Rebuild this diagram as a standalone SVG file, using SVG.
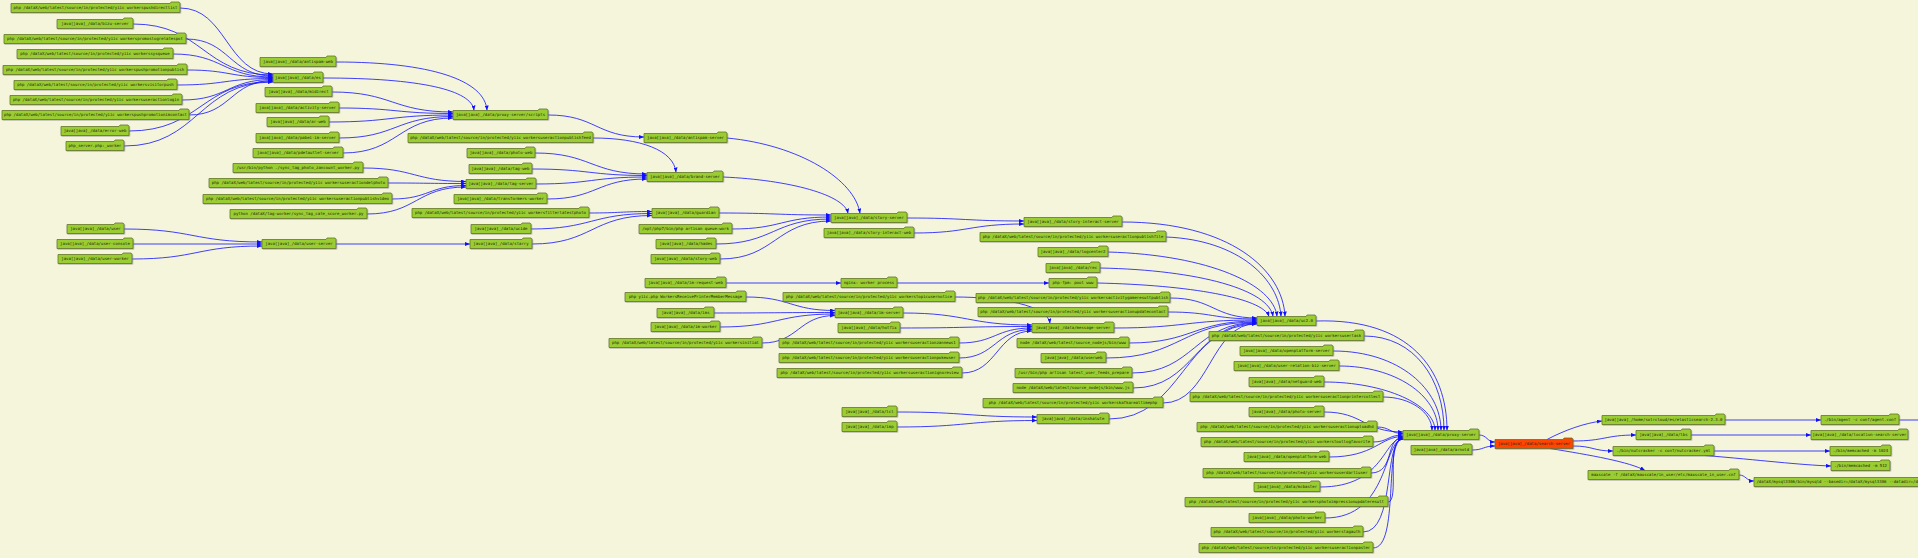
<svg xmlns="http://www.w3.org/2000/svg" width="1918" height="558" viewBox="0 0 1918 558">
<style>
.n path{fill:#9acd32;stroke:#5b6b1e;stroke-width:0.7;filter:url(#sh)}
.n text{font-family:"DejaVu Sans Mono","Liberation Mono",monospace;font-size:4px;text-anchor:middle;fill:#1e2410}
.e path{fill:none;stroke:#1010ff;stroke-width:0.8;marker-end:url(#a)}
#n89 path{fill:#ff4500}
</style>
<defs>
<marker id="a" markerUnits="userSpaceOnUse" markerWidth="5" markerHeight="4" viewBox="0 0 5 4" refX="5" refY="2" orient="auto"><path d="M0,0L5,2L0,4z" fill="#1010ff"/></marker>
<filter id="sh" x="-5%" y="-40%" width="110%" height="180%"><feDropShadow dx="0.7" dy="0.7" stdDeviation="0.4" flood-color="#777" flood-opacity="0.6"/></filter>
</defs>
<rect width="1918" height="558" fill="#f5f5dc"/>
<g id="edges" class="e">
<path d="M180,8C226.5,8 226.5,74 273,74"/>
<path d="M133,24C203,24 203,75 273,75"/>
<path d="M186,39C229.5,39 229.5,76 273,76"/>
<path d="M173,54C223,54 223,77 273,77"/>
<path d="M187,70C230,70 230,77.5 273,77.5"/>
<path d="M177,85C225,85 225,78.5 273,78.5"/>
<path d="M182,100C227.5,100 227.5,79.5 273,79.5"/>
<path d="M189,115C231,115 231,80.5 273,80.5"/>
<path d="M129,131C201,131 201,81.5 273,81.5"/>
<path d="M124,146C198.5,146 198.5,82 273,82"/>
<path d="M336,62C430,62 485,80 487,110.5"/>
<path d="M323,78C420,78 472,90 474,110.5"/>
<path d="M332,92C392.5,92 392.5,112 453,112"/>
<path d="M339,108C396,108 396,113.5 453,113.5"/>
<path d="M329,122C391,122 391,115 453,115"/>
<path d="M339,138C396,138 396,116.5 453,116.5"/>
<path d="M343,153C398,153 398,118 453,118"/>
<path d="M548,115C596,115 596,137 644,137"/>
<path d="M363,168C414.5,168 414.5,181.5 466,181.5"/>
<path d="M388,183C427,183 427,183.5 466,183.5"/>
<path d="M392,199C429,199 429,185.5 466,185.5"/>
<path d="M367,214C416.5,214 416.5,187 466,187"/>
<path d="M593,138C640,138 674,150 676,172.5"/>
<path d="M535,153C591,153 591,174 647,174"/>
<path d="M532,169C589.5,169 589.5,175.5 647,175.5"/>
<path d="M536,184C591.5,184 591.5,177 647,177"/>
<path d="M547,199C597,199 597,179 647,179"/>
<path d="M589,213C620.5,213 620.5,211.5 652,211.5"/>
<path d="M531,229C591.5,229 591.5,213.5 652,213.5"/>
<path d="M532,244C592,244 592,215.5 652,215.5"/>
<path d="M124,229C193,229 193,242 262,242"/>
<path d="M133,244L262,244"/>
<path d="M132,259C197,259 197,246 262,246"/>
<path d="M336,244L470,244"/>
<path d="M727,138C800,145 855,180 860,213.5"/>
<path d="M723,177C790,180 845,195 848,213.5"/>
<path d="M719,213C775,213 775,215 831,215"/>
<path d="M732,229C781.5,229 781.5,217 831,217"/>
<path d="M716,244C773.5,244 773.5,219 831,219"/>
<path d="M720,259C775.5,259 775.5,221 831,221"/>
<path d="M907,218C965.5,218 965.5,221 1024,221"/>
<path d="M914,233C969,233 969,224 1024,224"/>
<path d="M726,283L841,283"/>
<path d="M897,283L1049,283"/>
<path d="M746,297C790.5,297 790.5,310.5 835,310.5"/>
<path d="M714,313C774.5,313 774.5,312.5 835,312.5"/>
<path d="M720,327C777.5,327 777.5,314 835,314"/>
<path d="M762,343C798.5,343 798.5,315.5 835,315.5"/>
<path d="M903,313C967.5,313 967.5,325 1032,325"/>
<path d="M955,297C1000,297 1048,305 1050,323.5"/>
<path d="M900,328C966,328 966,326.5 1032,326.5"/>
<path d="M959,343C995.5,343 995.5,328 1032,328"/>
<path d="M959,358C995.5,358 995.5,329.5 1032,329.5"/>
<path d="M962,373C997,373 997,331 1032,331"/>
<path d="M897,412C967,412 967,417 1037,417"/>
<path d="M897,427C967,427 967,420.5 1037,420.5"/>
<path d="M1122,222C1230,222 1283,270 1285,316.5"/>
<path d="M1166,237C1240,240 1279,280 1281,316.5"/>
<path d="M1108,252C1210,255 1274,285 1277,316.5"/>
<path d="M1100,268C1200,270 1269,290 1273,316.5"/>
<path d="M1097,283C1190,285 1263,298 1269,316.5"/>
<path d="M1170,298C1213.5,298 1213.5,318 1257,318"/>
<path d="M1168,312C1212.5,312 1212.5,319 1257,319"/>
<path d="M1114,328C1185.5,328 1185.5,320 1257,320"/>
<path d="M1129,343C1193,343 1193,321 1257,321"/>
<path d="M1106,358C1181.5,358 1181.5,322 1257,322"/>
<path d="M1132,373C1194.5,373 1194.5,322.5 1257,322.5"/>
<path d="M1133,388C1195,388 1195,323 1257,323"/>
<path d="M1163,403C1210,403 1210,323.5 1257,323.5"/>
<path d="M1109,419C1183,419 1183,324 1257,324"/>
<path d="M1316,321C1410,318 1447,370 1447,430.5"/>
<path d="M1364,336C1415,336 1444,380 1444,430.5"/>
<path d="M1333,351C1400,351 1441,390 1441,430.5"/>
<path d="M1339,366C1395,366 1438,395 1438,430.5"/>
<path d="M1324,382C1385,382 1435,405 1435,430.5"/>
<path d="M1383,397C1410,397 1432,412 1432,430.5"/>
<path d="M1324,412C1363.5,412 1363.5,432 1403,432"/>
<path d="M1377,427C1390,427 1390,433.5 1403,433.5"/>
<path d="M1373,442C1388,442 1388,435 1403,435"/>
<path d="M1329,457C1375,457 1380,436.5 1403,436.5"/>
<path d="M1371,473C1395,473 1385,437.5 1403,437.5"/>
<path d="M1320,487C1385,487 1383,438 1403,438"/>
<path d="M1388,502C1400,502 1385,438.5 1403,438.5"/>
<path d="M1325,518C1390,518 1383,439 1403,439"/>
<path d="M1363,532C1396,532 1383,439 1403,439"/>
<path d="M1373,548C1400,548 1383,439 1403,439"/>
<path d="M1479,435C1487,435 1487,442 1495,442"/>
<path d="M1472,450C1483.5,450 1483.5,446 1495,446"/>
<path d="M1547,439.5C1565,430 1585,423 1602,421"/>
<path d="M1573,441C1605,441 1605,435 1636,435"/>
<path d="M1573,446C1593,446 1593,451 1613,451"/>
<path d="M1550,448.5C1590,455 1630,462 1645,470.5"/>
<path d="M1725,420L1821,420"/>
<path d="M1691,435L1811,435"/>
<path d="M1714,451L1830,451"/>
<path d="M1705,455.5C1760,460 1800,465 1831,466"/>
<path d="M1739,475C1746,475 1746,481 1754,481"/>
<path d="M1899,420L1918,420" style="marker-end:none"/>
</g>
<g id="n1" class="n"><path d="M11,3.5H170l1,-1.5h8l1,1.5V12.5H11Z"/><text x="95.5" y="9.4">php /dataX/web/latest/source/in/protected/yiic workerspushdirectlist</text></g>
<g id="n2" class="n"><path d="M57,19.5H123l1,-1.5h8l1,1.5V28.5H57Z"/><text x="95" y="25.4">java[java]_/data/bizu-server</text></g>
<g id="n3" class="n"><path d="M4,34.5H176l1,-1.5h8l1,1.5V43.5H4Z"/><text x="95" y="40.4">php /dataX/web/latest/source/in/protected/yiic workerspromoslogrelatespot</text></g>
<g id="n4" class="n"><path d="M17,49.5H163l1,-1.5h8l1,1.5V58.5H17Z"/><text x="95" y="55.4">php /dataX/web/latest/source/in/protected/yiic workerssysqueue</text></g>
<g id="n5" class="n"><path d="M3,65.5H177l1,-1.5h8l1,1.5V74.5H3Z"/><text x="95" y="71.4">php /dataX/web/latest/source/in/protected/yiic workerspushpromotionpublish</text></g>
<g id="n6" class="n"><path d="M14,80.5H167l1,-1.5h8l1,1.5V89.5H14Z"/><text x="95.5" y="86.4">php /dataX/web/latest/source/in/protected/yiic workersvisitorpush</text></g>
<g id="n7" class="n"><path d="M10,95.5H172l1,-1.5h8l1,1.5V104.5H10Z"/><text x="96" y="101.4">php /dataX/web/latest/source/in/protected/yiic workersuseractionlogin</text></g>
<g id="n8" class="n"><path d="M2,110.5H179l1,-1.5h8l1,1.5V119.5H2Z"/><text x="95.5" y="116.4">php /dataX/web/latest/source/in/protected/yiic workerspushpromotionimcontact</text></g>
<g id="n9" class="n"><path d="M61,126.5H119l1,-1.5h8l1,1.5V135.5H61Z"/><text x="95" y="132.4">java[java]_/data/error-web</text></g>
<g id="n10" class="n"><path d="M66,141.5H114l1,-1.5h8l1,1.5V150.5H66Z"/><text x="95" y="147.4">php_server.php:_worker</text></g>
<g id="n11" class="n"><path d="M260,57.5H326l1,-1.5h8l1,1.5V66.5H260Z"/><text x="298" y="63.4">java[java]_/data/antispam-web</text></g>
<g id="n12" class="n"><path d="M273,73.5H313l1,-1.5h8l1,1.5V82.5H273Z"/><text x="298" y="79.4">java[java]_/data/es</text></g>
<g id="n13" class="n"><path d="M265,87.5H322l1,-1.5h8l1,1.5V96.5H265Z"/><text x="298.5" y="93.4">java[java]_/data/midirect</text></g>
<g id="n14" class="n"><path d="M256,103.5H329l1,-1.5h8l1,1.5V112.5H256Z"/><text x="297.5" y="109.4">java[java]_/data/activity-server</text></g>
<g id="n15" class="n"><path d="M267,117.5H319l1,-1.5h8l1,1.5V126.5H267Z"/><text x="298" y="123.4">java[java]_/data/ar-web</text></g>
<g id="n16" class="n"><path d="M256,133.5H329l1,-1.5h8l1,1.5V142.5H256Z"/><text x="297.5" y="139.4">java[java]_/data/pabei-im-server</text></g>
<g id="n17" class="n"><path d="M253,148.5H333l1,-1.5h8l1,1.5V157.5H253Z"/><text x="298" y="154.4">java[java]_/data/pdetautlet-server</text></g>
<g id="n18" class="n"><path d="M233,163.5H353l1,-1.5h8l1,1.5V172.5H233Z"/><text x="298" y="169.4">/usr/bin/python ./sync_tag_photo_zancount_worker.py</text></g>
<g id="n19" class="n"><path d="M209,178.5H378l1,-1.5h8l1,1.5V187.5H209Z"/><text x="298.5" y="184.4">php /dataX/web/latest/source/in/protected/yiic workersuseractiondelphoto</text></g>
<g id="n20" class="n"><path d="M203,194.5H382l1,-1.5h8l1,1.5V203.5H203Z"/><text x="297.5" y="200.4">php /dataX/web/latest/source/in/protected/yiic workersuseractionpublishvideo</text></g>
<g id="n21" class="n"><path d="M230,209.5H357l1,-1.5h8l1,1.5V218.5H230Z"/><text x="298.5" y="215.4">python /dataX/tag-worker/sync_tag_cate_score_worker.py</text></g>
<g id="n22" class="n"><path d="M67,224.5H114l1,-1.5h8l1,1.5V233.5H67Z"/><text x="95.5" y="230.4">java[java]_/data/user</text></g>
<g id="n23" class="n"><path d="M57,239.5H123l1,-1.5h8l1,1.5V248.5H57Z"/><text x="95" y="245.4">java[java]_/data/user-console</text></g>
<g id="n24" class="n"><path d="M58,254.5H122l1,-1.5h8l1,1.5V263.5H58Z"/><text x="95" y="260.4">java[java]_/data/user-worker</text></g>
<g id="n25" class="n"><path d="M262,239.5H326l1,-1.5h8l1,1.5V248.5H262Z"/><text x="299" y="245.4">java[java]_/data/user-server</text></g>
<g id="n26" class="n"><path d="M453,110.5H538l1,-1.5h8l1,1.5V119.5H453Z"/><text x="500.5" y="116.4">java[java]_/data/proxy-server/scripts</text></g>
<g id="n27" class="n"><path d="M408,133.5H583l1,-1.5h8l1,1.5V142.5H408Z"/><text x="500.5" y="139.4">php /dataX/web/latest/source/in/protected/yiic workersuseractionpublishfeed</text></g>
<g id="n28" class="n"><path d="M467,148.5H525l1,-1.5h8l1,1.5V157.5H467Z"/><text x="501" y="154.4">java[java]_/data/photo-web</text></g>
<g id="n29" class="n"><path d="M469,164.5H522l1,-1.5h8l1,1.5V173.5H469Z"/><text x="500.5" y="170.4">java[java]_/data/tag-web</text></g>
<g id="n30" class="n"><path d="M466,179.5H526l1,-1.5h8l1,1.5V188.5H466Z"/><text x="501" y="185.4">java[java]_/data/tag-server</text></g>
<g id="n31" class="n"><path d="M454,194.5H537l1,-1.5h8l1,1.5V203.5H454Z"/><text x="500.5" y="200.4">java[java]_/data/transformers-worker</text></g>
<g id="n32" class="n"><path d="M412,208.5H579l1,-1.5h8l1,1.5V217.5H412Z"/><text x="500.5" y="214.4">php /dataX/web/latest/source/in/protected/yiic workersfilterlatestphoto</text></g>
<g id="n33" class="n"><path d="M471,224.5H521l1,-1.5h8l1,1.5V233.5H471Z"/><text x="501" y="230.4">java[java]_/data/ucide</text></g>
<g id="n34" class="n"><path d="M470,239.5H522l1,-1.5h8l1,1.5V248.5H470Z"/><text x="501" y="245.4">java[java]_/data/starry</text></g>
<g id="n35" class="n"><path d="M644,133.5H717l1,-1.5h8l1,1.5V142.5H644Z"/><text x="685.5" y="139.4">java[java]_/data/antispam-server</text></g>
<g id="n36" class="n"><path d="M647,172.5H713l1,-1.5h8l1,1.5V181.5H647Z"/><text x="685" y="178.4">java[java]_/data/brand-server</text></g>
<g id="n37" class="n"><path d="M652,208.5H709l1,-1.5h8l1,1.5V217.5H652Z"/><text x="685.5" y="214.4">java[java]_/data/guardian</text></g>
<g id="n38" class="n"><path d="M639,224.5H722l1,-1.5h8l1,1.5V233.5H639Z"/><text x="685.5" y="230.4">/opt/php7/bin/php artisan queue:work</text></g>
<g id="n39" class="n"><path d="M656,239.5H706l1,-1.5h8l1,1.5V248.5H656Z"/><text x="686" y="245.4">java[java]_/data/hades</text></g>
<g id="n40" class="n"><path d="M651,254.5H710l1,-1.5h8l1,1.5V263.5H651Z"/><text x="685.5" y="260.4">java[java]_/data/story-web</text></g>
<g id="n41" class="n"><path d="M831,213.5H897l1,-1.5h8l1,1.5V222.5H831Z"/><text x="869" y="219.4">java[java]_/data/story-server</text></g>
<g id="n42" class="n"><path d="M824,228.5H904l1,-1.5h8l1,1.5V237.5H824Z"/><text x="869" y="234.4">java[java]_/data/story-interact-web</text></g>
<g id="n43" class="n"><path d="M1024,217.5H1112l1,-1.5h8l1,1.5V226.5H1024Z"/><text x="1073" y="223.4">java[java]_/data/story-interact-server</text></g>
<g id="n44" class="n"><path d="M645,278.5H716l1,-1.5h8l1,1.5V287.5H645Z"/><text x="685.5" y="284.4">java[java]_/data/im-request-web</text></g>
<g id="n45" class="n"><path d="M841,278.5H887l1,-1.5h8l1,1.5V287.5H841Z"/><text x="869" y="284.4">nginx: worker process</text></g>
<g id="n46" class="n"><path d="M1049,278.5H1087l1,-1.5h8l1,1.5V287.5H1049Z"/><text x="1073" y="284.4">php-fpm: pool www</text></g>
<g id="n47" class="n"><path d="M625,292.5H736l1,-1.5h8l1,1.5V301.5H625Z"/><text x="685.5" y="298.4">php yiic.php WorkersReceivePrinterMemberMessage</text></g>
<g id="n48" class="n"><path d="M657,308.5H704l1,-1.5h8l1,1.5V317.5H657Z"/><text x="685.5" y="314.4">java[java]_/data/ims</text></g>
<g id="n49" class="n"><path d="M651,322.5H710l1,-1.5h8l1,1.5V331.5H651Z"/><text x="685.5" y="328.4">java[java]_/data/im-worker</text></g>
<g id="n50" class="n"><path d="M609,338.5H752l1,-1.5h8l1,1.5V347.5H609Z"/><text x="685.5" y="344.4">php /dataX/web/latest/source/in/protected/yiic workersinitial</text></g>
<g id="n51" class="n"><path d="M835,308.5H893l1,-1.5h8l1,1.5V317.5H835Z"/><text x="869" y="314.4">java[java]_/data/im-server</text></g>
<g id="n52" class="n"><path d="M783,292.5H945l1,-1.5h8l1,1.5V301.5H783Z"/><text x="869" y="298.4">php /dataX/web/latest/source/in/protected/yiic workerstopicusernotice</text></g>
<g id="n53" class="n"><path d="M838,323.5H890l1,-1.5h8l1,1.5V332.5H838Z"/><text x="869" y="329.4">java[java]_/data/hotfix</text></g>
<g id="n54" class="n"><path d="M779,338.5H949l1,-1.5h8l1,1.5V347.5H779Z"/><text x="869" y="344.4">php /dataX/web/latest/source/in/protected/yiic workersuseractionzannews1</text></g>
<g id="n55" class="n"><path d="M779,353.5H949l1,-1.5h8l1,1.5V362.5H779Z"/><text x="869" y="359.4">php /dataX/web/latest/source/in/protected/yiic workersuseractionpokeuser</text></g>
<g id="n56" class="n"><path d="M777,368.5H952l1,-1.5h8l1,1.5V377.5H777Z"/><text x="869.5" y="374.4">php /dataX/web/latest/source/in/protected/yiic workersuseractionignoreview</text></g>
<g id="n57" class="n"><path d="M842,407.5H887l1,-1.5h8l1,1.5V416.5H842Z"/><text x="869.5" y="413.4">java[java]_/data/lcl</text></g>
<g id="n58" class="n"><path d="M842,422.5H887l1,-1.5h8l1,1.5V431.5H842Z"/><text x="869.5" y="428.4">java[java]_/data/imp</text></g>
<g id="n59" class="n"><path d="M1032,323.5H1104l1,-1.5h8l1,1.5V332.5H1032Z"/><text x="1073" y="329.4">java[java]_/data/message-server</text></g>
<g id="n60" class="n"><path d="M980,232.5H1156l1,-1.5h8l1,1.5V241.5H980Z"/><text x="1073" y="238.4">php /dataX/web/latest/source/in/protected/yiic workersuseractionpublishfile</text></g>
<g id="n61" class="n"><path d="M1038,247.5H1098l1,-1.5h8l1,1.5V256.5H1038Z"/><text x="1073" y="253.4">java[java]_/data/logcenter2</text></g>
<g id="n62" class="n"><path d="M1046,263.5H1090l1,-1.5h8l1,1.5V272.5H1046Z"/><text x="1073" y="269.4">java[java]_/data/rec</text></g>
<g id="n63" class="n"><path d="M976,293.5H1160l1,-1.5h8l1,1.5V302.5H976Z"/><text x="1073" y="299.4">php /dataX/web/latest/source/in/protected/yiic workersactivitygameresultpublish</text></g>
<g id="n64" class="n"><path d="M978,307.5H1158l1,-1.5h8l1,1.5V316.5H978Z"/><text x="1073" y="313.4">php /dataX/web/latest/source/in/protected/yiic workersuseractionupdatecontact</text></g>
<g id="n65" class="n"><path d="M1017,338.5H1119l1,-1.5h8l1,1.5V347.5H1017Z"/><text x="1073" y="344.4">node /dataX/web/latest/source_nodejs/bin/www</text></g>
<g id="n66" class="n"><path d="M1041,353.5H1096l1,-1.5h8l1,1.5V362.5H1041Z"/><text x="1073.5" y="359.4">java[java]_/data/userweb</text></g>
<g id="n67" class="n"><path d="M1015,368.5H1122l1,-1.5h8l1,1.5V377.5H1015Z"/><text x="1073.5" y="374.4">/usr/bin/php artisan latest_user_feeds_prepare</text></g>
<g id="n68" class="n"><path d="M1013,383.5H1123l1,-1.5h8l1,1.5V392.5H1013Z"/><text x="1073" y="389.4">node /dataX/web/latest/source_nodejs/bin/www.js</text></g>
<g id="n69" class="n"><path d="M983,398.5H1153l1,-1.5h8l1,1.5V407.5H983Z"/><text x="1073" y="404.4">php /dataX/web/latest/source/in/protected/yiic workerskafkarealtimephp</text></g>
<g id="n70" class="n"><path d="M1037,414.5H1099l1,-1.5h8l1,1.5V423.5H1037Z"/><text x="1073" y="420.4">java[java]_/data/inshalute</text></g>
<g id="n71" class="n"><path d="M1257,316.5H1306l1,-1.5h8l1,1.5V325.5H1257Z"/><text x="1286.5" y="322.4">java[java]_/data/uc2.0</text></g>
<g id="n72" class="n"><path d="M1209,331.5H1354l1,-1.5h8l1,1.5V340.5H1209Z"/><text x="1286.5" y="337.4">php /dataX/web/latest/source/in/protected/yiic workersusertask</text></g>
<g id="n73" class="n"><path d="M1240,346.5H1323l1,-1.5h8l1,1.5V355.5H1240Z"/><text x="1286.5" y="352.4">java[java]_/data/openplatform-server</text></g>
<g id="n74" class="n"><path d="M1234,361.5H1329l1,-1.5h8l1,1.5V370.5H1234Z"/><text x="1286.5" y="367.4">java[java]_/data/user-relation-biz-server</text></g>
<g id="n75" class="n"><path d="M1249,377.5H1314l1,-1.5h8l1,1.5V386.5H1249Z"/><text x="1286.5" y="383.4">java[java]_/data/netguard-web</text></g>
<g id="n76" class="n"><path d="M1190,392.5H1373l1,-1.5h8l1,1.5V401.5H1190Z"/><text x="1286.5" y="398.4">php /dataX/web/latest/source/in/protected/yiic workersuseractionprintercollect</text></g>
<g id="n77" class="n"><path d="M1249,407.5H1314l1,-1.5h8l1,1.5V416.5H1249Z"/><text x="1286.5" y="413.4">java[java]_/data/photo-server</text></g>
<g id="n78" class="n"><path d="M1197,422.5H1367l1,-1.5h8l1,1.5V431.5H1197Z"/><text x="1287" y="428.4">php /dataX/web/latest/source/in/protected/yiic workersuseractionuploadhd</text></g>
<g id="n79" class="n"><path d="M1201,437.5H1363l1,-1.5h8l1,1.5V446.5H1201Z"/><text x="1287" y="443.4">php /dataX/web/latest/source/in/protected/yiic workerstoollogfavorite</text></g>
<g id="n80" class="n"><path d="M1244,452.5H1319l1,-1.5h8l1,1.5V461.5H1244Z"/><text x="1286.5" y="458.4">java[java]_/data/openplatform-web</text></g>
<g id="n81" class="n"><path d="M1203,468.5H1361l1,-1.5h8l1,1.5V477.5H1203Z"/><text x="1287" y="474.4">php /dataX/web/latest/source/in/protected/yiic workersuserdarliuser</text></g>
<g id="n82" class="n"><path d="M1254,482.5H1310l1,-1.5h8l1,1.5V491.5H1254Z"/><text x="1287" y="488.4">java[java]_/data/mcbaster</text></g>
<g id="n83" class="n"><path d="M1185,497.5H1378l1,-1.5h8l1,1.5V506.5H1185Z"/><text x="1286.5" y="503.4">php /dataX/web/latest/source/in/protected/yiic workersphotoimpressionupdateresult</text></g>
<g id="n84" class="n"><path d="M1249,513.5H1315l1,-1.5h8l1,1.5V522.5H1249Z"/><text x="1287" y="519.4">java[java]_/data/photo-worker</text></g>
<g id="n85" class="n"><path d="M1211,527.5H1353l1,-1.5h8l1,1.5V536.5H1211Z"/><text x="1287" y="533.4">php /dataX/web/latest/source/in/protected/yiic workerstagauth</text></g>
<g id="n86" class="n"><path d="M1199,543.5H1363l1,-1.5h8l1,1.5V552.5H1199Z"/><text x="1286" y="549.4">php /dataX/web/latest/source/in/protected/yiic workersuseractionpaster</text></g>
<g id="n87" class="n"><path d="M1403,430.5H1469l1,-1.5h8l1,1.5V439.5H1403Z"/><text x="1441" y="436.4">java[java]_/data/proxy-server</text></g>
<g id="n88" class="n"><path d="M1411,445.5H1462l1,-1.5h8l1,1.5V454.5H1411Z"/><text x="1441.5" y="451.4">java[java]_/data/arnold</text></g>
<g id="n89" class="n"><path d="M1495,439.5H1563l1,-1.5h8l1,1.5V448.5H1495Z"/><text x="1534" y="445.4">java[java]_/data/search-server</text></g>
<g id="n90" class="n"><path d="M1602,415.5H1715l1,-1.5h8l1,1.5V424.5H1602Z"/><text x="1663.5" y="421.4">java[java]_/home/solrcloud/es/elasticsearch-2.3.0</text></g>
<g id="n91" class="n"><path d="M1821,415.5H1889l1,-1.5h8l1,1.5V424.5H1821Z"/><text x="1860" y="421.4">./bin/agent -c conf/agent.conf</text></g>
<g id="n92" class="n"><path d="M1636,430.5H1681l1,-1.5h8l1,1.5V439.5H1636Z"/><text x="1663.5" y="436.4">java[java]_/data/lbs</text></g>
<g id="n93" class="n"><path d="M1811,430.5H1898l1,-1.5h8l1,1.5V439.5H1811Z"/><text x="1859.5" y="436.4">java[java]_/data/location-search-server</text></g>
<g id="n94" class="n"><path d="M1613,446.5H1704l1,-1.5h8l1,1.5V455.5H1613Z"/><text x="1663.5" y="452.4">./bin/nutcracker -c conf/nutcracker.yml</text></g>
<g id="n95" class="n"><path d="M1830,446.5H1881l1,-1.5h8l1,1.5V455.5H1830Z"/><text x="1860.5" y="452.4">./bin/memcached -m 1024</text></g>
<g id="n96" class="n"><path d="M1831,461.5H1880l1,-1.5h8l1,1.5V470.5H1831Z"/><text x="1860.5" y="467.4">./bin/memcached -m 512</text></g>
<g id="n97" class="n"><path d="M1588,470.5H1729l1,-1.5h8l1,1.5V479.5H1588Z"/><text x="1663.5" y="476.4">maxscale -f /dataX/maxscale/in_user/etc/maxscale_in_user.cnf</text></g>
<g id="n98" class="n"><path d="M1754,477.5H1956l1,-1.5h8l1,1.5V486.5H1754Z"/><text x="1860" y="483.4">/dataX/mysql3306/bin/mysqld --basedir=/dataX/mysql3306 --datadir=/dataX/mysql3306/data</text></g>
</svg>
